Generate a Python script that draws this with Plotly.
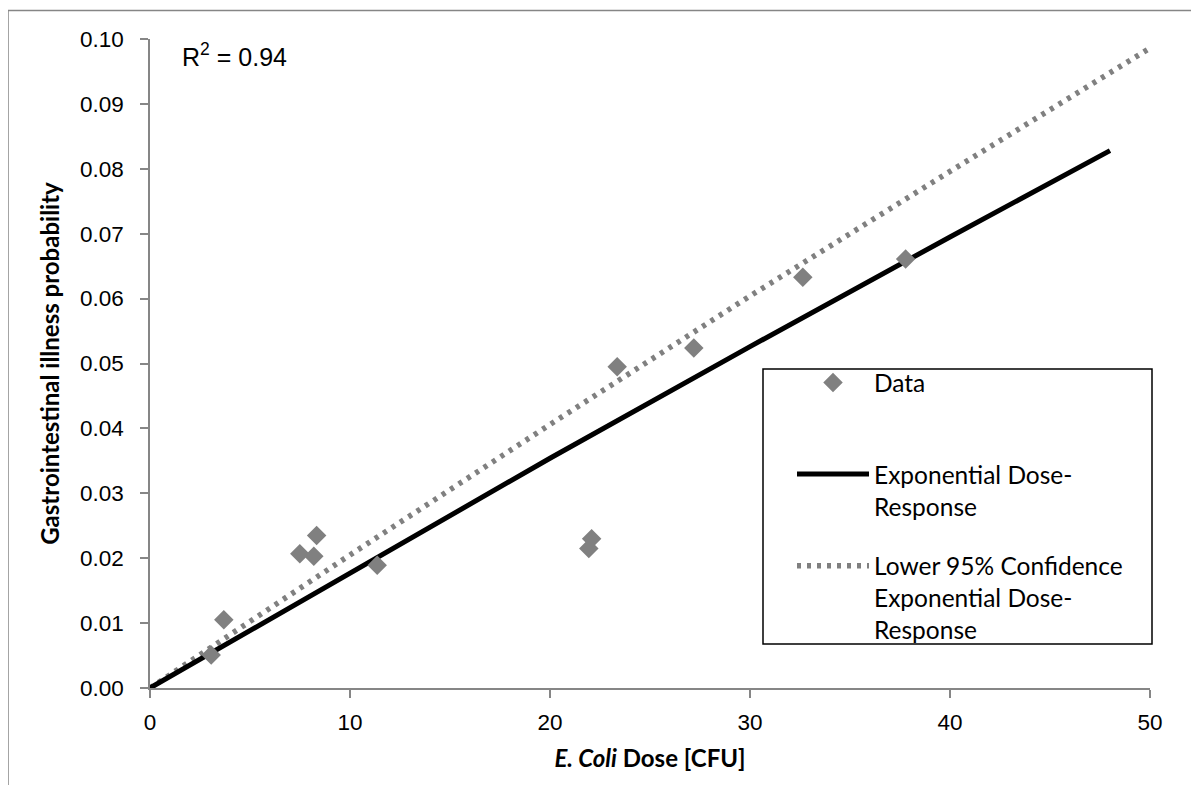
import plotly.graph_objects as go

# Observed data points (dose [CFU], illness probability)
dose = [3.06, 3.69, 7.49, 8.19, 8.33, 11.36, 21.94, 22.08, 23.36, 27.19, 32.64, 37.78]
prob = [0.0051, 0.0105, 0.0207, 0.0203, 0.0235, 0.0189, 0.0215, 0.0230, 0.0495, 0.0524, 0.0633, 0.0661]

# Exponential dose-response curve
fit_x = [0, 10, 20, 30, 40, 48]
fit_y = [0, 0.0178, 0.0354, 0.0526, 0.0695, 0.0828]

# Lower 95% confidence curve
low_x = [0, 10, 20, 30, 40, 50]
low_y = [0, 0.0205, 0.0406, 0.0604, 0.0796, 0.0986]

x_ticks = [0, 10, 20, 30, 40, 50]
y_ticks = [0.00, 0.01, 0.02, 0.03, 0.04, 0.05, 0.06, 0.07, 0.08, 0.09, 0.10]

GRAY = "#808080"
AXIS = "#868686"
CAL = "Lato, 'Open Sans', sans-serif"
ARIAL = "'Liberation Sans', Arial, sans-serif"

fig = go.Figure()
fig.add_trace(go.Scatter(
    x=low_x, y=low_y, mode="lines",
    line=dict(color=GRAY, width=5.5, dash="4px,6px"),
    name="Lower 95% Confidence<br>Exponential Dose-<br>Response",
    legendgroup="c", legendrank=3))
fig.add_trace(go.Scatter(
    x=fit_x, y=fit_y, mode="lines",
    line=dict(color="black", width=5),
    name="Exponential Dose-<br>Response",
    legendgroup="b", legendrank=2))
fig.add_trace(go.Scatter(
    x=dose, y=prob, mode="markers",
    marker=dict(symbol="diamond", size=15, color=GRAY),
    name="Data<br>\u00a0",
    legendgroup="a", legendrank=1))

fig.update_layout(
    width=1191, height=777, autosize=False,
    margin=dict(l=142, r=49, t=31, b=97),
    paper_bgcolor="white", plot_bgcolor="white",
    showlegend=True,
    legend=dict(
        x=0.613, y=0.5054, xanchor="left", yanchor="top",
        bgcolor="rgba(0,0,0,0)", borderwidth=0,
        font=dict(family=CAL, size=24.5, color="black"),
        itemwidth=72, indentation=29, valign="top",
        traceorder="grouped", tracegroupgap=25,
    ),
    xaxis=dict(
        range=[0, 50], tickvals=x_ticks, ticktext=[str(v) for v in x_ticks],
        showgrid=False, zeroline=False,
        showline=True, linecolor=AXIS, linewidth=1.5,
        ticks="outside", ticklen=8, tickcolor=AXIS, tickwidth=1.5,
        tickfont=dict(family=ARIAL, size=22.5, color="black"),
        ticklabelstandoff=5,
        title=dict(text="<b><i>E. Coli</i> Dose [CFU]</b>",
                   font=dict(family=CAL, size=24, color="black"), standoff=16),
    ),
    yaxis=dict(
        range=[0, 0.10], tickvals=y_ticks, tickformat=".2f",
        showgrid=False, zeroline=False,
        showline=True, linecolor=AXIS, linewidth=1.5,
        ticks="outside", ticklen=8, tickcolor=AXIS, tickwidth=1.5,
        tickfont=dict(family=ARIAL, size=22.5, color="black"),
        ticklabelstandoff=12,
        title=dict(text="<b>Gastrointestinal illness probability</b>",
                   font=dict(family=CAL, size=24, color="black"), standoff=14),
    ),
    annotations=[dict(
        x=0.030, y=1.0035, xref="paper", yref="paper",
        xanchor="left", yanchor="top", showarrow=False,
        text="R<sup>2</sup> = 0.94",
        font=dict(family=ARIAL, size=25, color="black"))],
    shapes=[
        # legend frame
        dict(type="rect", xref="paper", yref="paper",
             x0=0.613, x1=1.002, y0=0.0678, y1=0.4915,
             line=dict(color="black", width=1.5), fillcolor="rgba(0,0,0,0)"),
        # outer chart border
        dict(type="rect", xref="paper", yref="paper",
             x0=-0.142, x1=1.06, y0=-0.16, y1=1.0439,
             line=dict(color=AXIS, width=1.5), fillcolor="rgba(0,0,0,0)"),
    ],
)

fig.write_html("out.html")
